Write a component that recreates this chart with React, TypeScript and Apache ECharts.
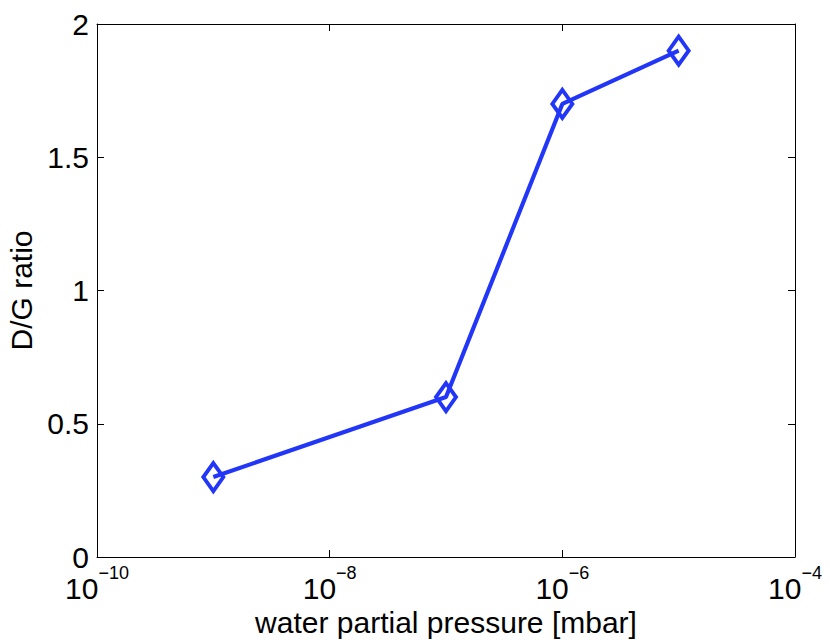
import React, { useEffect, useRef } from "react";
import * as echarts from "echarts";

const pressures = [1e-9, 1e-7, 1e-6, 1e-5];
const ratios = [0.3, 0.6, 1.7, 1.9];
const xTickExponents = [-10, -8, -6, -4];
const yTicks = [0, 0.5, 1, 1.5, 2];

const FONT = "'Liberation Sans', Arial, Helvetica, sans-serif";
const BLUE = "#2236f8";

export default function App() {
  const ref = useRef<HTMLDivElement>(null);
  useEffect(() => {
    document.body.style.margin = "0";
    const chart = echarts.init(ref.current!, null, { renderer: "svg" });
    const xTickValues = xTickExponents.map((e) => Math.pow(10, e));
    const xMin = xTickValues[0];
    const xMax = xTickValues[xTickValues.length - 1];
    const yMin = yTicks[0];
    const yMax = yTicks[yTicks.length - 1];
    const tick = { show: true, inside: true, length: 7, lineStyle: { color: "#000", width: 1 } };
    const xTick = { ...tick, customValues: xTickValues };
    const line = { show: true, onZero: false, lineStyle: { color: "#000", width: 1 } };
    chart.setOption({
      animation: false,
      backgroundColor: "#fff",
      textStyle: { fontFamily: FONT },
      grid: { left: 97, right: 35, top: 24, bottom: 83, containLabel: false, outerBoundsMode: "none" },
      xAxis: [
        {
          type: "log",
          logBase: 10,
          min: xMin,
          max: xMax,
          position: "bottom",
          axisLine: line,
          axisTick: xTick,
          minorTick: { show: false },
          splitLine: { show: false },
          axisLabel: {
            margin: 7,
            color: "#000",
            customValues: xTickValues,
            formatter: (v: number) => {
              const e = Math.round(Math.log10(v));
              return "{b|10}{s|" + (e < 0 ? "\u2212" : "") + Math.abs(e) + "}";
            },
            rich: {
              b: { fontSize: 30, lineHeight: 48, fontFamily: FONT, color: "#000" },
              s: { fontSize: 18, lineHeight: 17, verticalAlign: "top", fontFamily: FONT, color: "#000" },
            },
          },
          name: "water partial pressure [mbar]",
          nameLocation: "middle",
          nameGap: 41,
          nameTextStyle: { fontSize: 30, color: "#000", fontFamily: FONT },
        },
        {
          type: "log",
          logBase: 10,
          min: xMin,
          max: xMax,
          position: "top",
          axisLine: line,
          axisTick: xTick,
          minorTick: { show: false },
          splitLine: { show: false },
          axisLabel: { show: false, customValues: xTickValues },
        },
      ],
      yAxis: [
        {
          type: "value",
          min: yMin,
          max: yMax,
          interval: 0.5,
          position: "left",
          axisLine: line,
          axisTick: tick,
          splitLine: { show: false },
          axisLabel: { margin: 8, fontSize: 30, color: "#000", fontFamily: FONT },
          name: "D/G ratio",
          nameLocation: "middle",
          nameGap: 61,
          nameTextStyle: { fontSize: 30, color: "#000", fontFamily: FONT },
        },
        {
          type: "value",
          min: yMin,
          max: yMax,
          interval: 0.5,
          position: "right",
          axisLine: line,
          axisTick: tick,
          splitLine: { show: false },
          axisLabel: { show: false },
        },
      ],
      series: [
        {
          type: "line",
          xAxisIndex: 0,
          yAxisIndex: 0,
          data: pressures.map((p, i) => [p, ratios[i]]),
          lineStyle: { color: BLUE, width: 4.2 },
          symbol: "diamond",
          symbolSize: [20, 28],
          itemStyle: { color: "rgba(0,0,0,0)", borderColor: BLUE, borderWidth: 4 },
          z: 3,
        },
      ],
    });
    return () => chart.dispose();
  }, []);
  return <div ref={ref} style={{ width: 830, height: 640 }} />;
}
